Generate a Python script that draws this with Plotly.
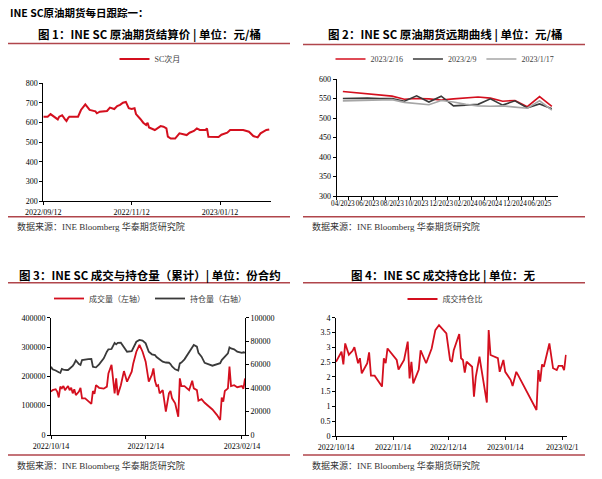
import plotly.graph_objects as go

# ---------------- data ----------------
# Figure 1: SC next-month settlement price (yuan/bbl)
p1_dates = ["2022-09-12","2022-09-15","2022-09-17","2022-09-19","2022-09-21","2022-09-22","2022-09-23","2022-09-25","2022-09-27","2022-09-28",
            "2022-09-29","2022-09-30","2022-10-06","2022-10-08","2022-10-11","2022-10-13","2022-10-14","2022-10-18","2022-10-19","2022-10-21",
            "2022-10-26","2022-10-28","2022-10-30","2022-10-31","2022-11-02","2022-11-04","2022-11-06","2022-11-08","2022-11-10","2022-11-12",
            "2022-11-14","2022-11-15","2022-11-18","2022-11-20","2022-11-22","2022-11-23","2022-11-24","2022-11-26","2022-11-28","2022-12-02",
            "2022-12-04","2022-12-06","2022-12-07","2022-12-09","2022-12-12","2022-12-15","2022-12-19","2022-12-20","2022-12-22","2022-12-25",
            "2022-12-27","2022-12-29","2023-01-02","2023-01-03","2023-01-04","2023-01-07","2023-01-11","2023-01-13","2023-01-17","2023-01-19",
            "2023-01-22","2023-01-28","2023-02-01","2023-02-02","2023-02-04","2023-02-07","2023-02-09","2023-02-13","2023-02-15"]
p1_sc_next = [630,630,643,633,621,616,630,637,616,608,
              621,630,630,664,693,673,664,657,647,655,
              659,676,673,669,684,690,701,705,673,669,
              673,643,618,599,587,599,575,567,562,582,
              579,570,528,518,518,545,540,536,548,557,
              570,562,562,570,528,528,526,538,548,562,
              562,562,553,545,531,524,545,562,565]
p1_tickvals = ["2022-09-12", "2022-11-12", "2023-01-12"]
p1_ticktext = ["2022/09/12", "2022/11/12", "2023/01/12"]

# Figure 2: forward curves
p2_contracts = ["04/2023","05/2023","06/2023","07/2023","08/2023","09/2023","10/2023","11/2023","12/2023",
                "01/2024","02/2024","03/2024","06/2024","09/2024","12/2024","03/2025","06/2025","09/2025"]
p2_0216 = [568,565,562,559,556,548,550,549,546,549,551,554,551,543,545,529,555,530]
p2_0209 = [550,551,551,550,550,543,557,541,556,531,533,535,549,533,544,526,536,524]
p2_0117 = [544,545,546,547,547,540,537,534,545,541,535,531,530,531,528,525,544,520]

# Figure 3: volume & open interest (contracts)
p3_dates = ["2022-10-14","2022-10-15","2022-10-17","2022-10-18","2022-10-19","2022-10-20","2022-10-21","2022-10-22","2022-10-23","2022-10-24",
            "2022-10-25","2022-10-26","2022-10-27","2022-10-28","2022-10-29","2022-10-30","2022-11-01","2022-11-02","2022-11-03","2022-11-05",
            "2022-11-07","2022-11-09","2022-11-10","2022-11-11","2022-11-12","2022-11-14","2022-11-17","2022-11-19","2022-11-20","2022-11-22",
            "2022-11-24","2022-11-25","2022-11-26","2022-11-28","2022-11-30","2022-12-02","2022-12-05","2022-12-06","2022-12-08","2022-12-10",
            "2022-12-12","2022-12-14","2022-12-16","2022-12-18","2022-12-19","2022-12-20","2022-12-21","2022-12-22","2022-12-23","2022-12-25",
            "2022-12-27","2022-12-29","2022-12-30","2022-12-31","2023-01-02","2023-01-04","2023-01-05","2023-01-06","2023-01-08","2023-01-11",
            "2023-01-13","2023-01-14","2023-01-16","2023-01-17","2023-01-19","2023-01-21","2023-01-26","2023-01-29","2023-01-31","2023-02-01",
            "2023-02-02","2023-02-03","2023-02-05","2023-02-06","2023-02-07","2023-02-09","2023-02-11","2023-02-14","2023-02-15","2023-02-16"]
p3_volume = [147700,153000,156000,148000,128000,165000,159000,167000,153000,161000,
             167000,153000,161000,142000,156000,136000,148000,161000,125000,125000,
             114000,106000,150000,140000,170000,161000,158000,165000,210000,239000,
             142000,193000,136000,170000,218000,182000,216000,244000,284000,307000,
             284000,250000,182000,205000,227000,185000,167000,170000,142000,153000,
             80000,142000,150000,125000,108000,62000,193000,167000,167000,153000,
             185000,159000,153000,117000,122000,110000,87000,68000,51000,128000,
             114000,150000,159000,233000,167000,170000,163000,167000,158000,193000]
p3_open_interest = [58200,56000,55000,54000,53500,53000,56300,55800,55400,55400,
                    55400,56500,57500,58800,61000,63600,60500,59700,63900,64500,
                    64700,64800,58200,57900,57700,60200,65300,71000,73000,73300,
                    78500,77300,78500,78700,75300,71000,71500,74000,79500,81000,
                    80400,78100,71000,68800,68500,68200,66500,65300,64500,62500,
                    61800,61600,60500,58500,56000,55000,61100,61800,64500,70500,
                    74000,76700,75300,70000,66800,61500,59100,60300,61200,63900,
                    65500,67000,69600,74700,73800,73000,71000,70000,70500,70200]
p3_tickvals = ["2022-10-14", "2022-12-14", "2023-02-14"]
p3_ticktext = ["2022/10/14", "2022/12/14", "2023/02/14"]

# Figure 4: volume / open-interest ratio
p4_dates = ["2022-10-14","2022-10-15","2022-10-17","2022-10-18","2022-10-19","2022-10-21","2022-10-23","2022-10-24","2022-10-25","2022-10-26",
            "2022-10-27","2022-10-28","2022-10-31","2022-11-01","2022-11-02","2022-11-04","2022-11-08","2022-11-09","2022-11-10","2022-11-11",
            "2022-11-16","2022-11-17","2022-11-20","2022-11-22","2022-11-23","2022-11-24","2022-11-25","2022-11-28","2022-11-29","2022-12-01",
            "2022-12-02","2022-12-05","2022-12-07","2022-12-09","2022-12-13","2022-12-15","2022-12-16","2022-12-17","2022-12-20","2022-12-21",
            "2022-12-22","2022-12-23","2022-12-24","2022-12-27","2022-12-28","2022-12-29","2022-12-31","2023-01-01","2023-01-04","2023-01-05",
            "2023-01-06","2023-01-10","2023-01-11","2023-01-13","2023-01-14","2023-01-17","2023-01-18","2023-01-20","2023-01-21","2023-01-31",
            "2023-02-01","2023-02-02","2023-02-03","2023-02-04","2023-02-07","2023-02-09","2023-02-11","2023-02-12","2023-02-14","2023-02-15",
            "2023-02-16"]
p4_ratio = [2.51,2.63,2.85,2.42,3.13,2.75,2.88,3.00,2.70,2.46,
            2.63,2.12,2.46,2.83,2.04,2.04,1.67,2.63,2.46,2.96,
            2.57,2.25,2.57,3.19,1.95,2.51,1.78,2.25,2.90,2.57,
            2.46,2.96,3.58,3.75,3.47,2.57,2.51,2.90,3.45,2.63,
            2.57,2.14,2.51,2.34,1.33,2.00,2.68,2.29,1.13,3.58,
            2.74,2.63,2.17,2.57,2.17,1.89,1.69,2.17,2.06,0.88,
            2.23,1.84,2.42,2.34,3.13,2.29,2.23,2.37,2.37,2.23,
            2.74]
p4_tickvals = ["2022-10-14", "2022-11-14", "2022-12-14", "2023-01-14", "2023-02-14"]
p4_ticktext = ["2022/10/14", "2022/11/14", "2022/12/14", "2023/01/14", "2023/02/1"]

# ---------------- styling ----------------
W, H = 602, 479
RED = "#D40F1E"
DARK = "#3A3A3A"
LIGHT = "#A6A6A6"
RULE = "#B0454B"
SERIF = "Liberation Serif, Noto Sans CJK SC"
CJK_BOLD = "Noto Sans CJK SC"


def fx(x):
    return x / W


def fy(y):
    return 1 - y / H


axis_common = dict(showgrid=False, zeroline=False, showline=True, linecolor="#000", linewidth=1,
                   ticks="outside", ticklen=3, tickcolor="#000", tickwidth=1, automargin=False,
                   tickfont=dict(family=SERIF, size=8, color="#000"), fixedrange=True)

fig = go.Figure()

fig.add_trace(go.Scatter(x=p1_dates, y=p1_sc_next, mode="lines", name="SC次月",
                         line=dict(color=RED, width=2), xaxis="x", yaxis="y", legend="legend"))

fig.add_trace(go.Scatter(x=p2_contracts, y=p2_0216, mode="lines", name="2023/2/16",
                         line=dict(color=RED, width=1.6), xaxis="x2", yaxis="y2", legend="legend2"))
fig.add_trace(go.Scatter(x=p2_contracts, y=p2_0209, mode="lines", name="2023/2/9",
                         line=dict(color=DARK, width=1.6), xaxis="x2", yaxis="y2", legend="legend2"))
fig.add_trace(go.Scatter(x=p2_contracts, y=p2_0117, mode="lines", name="2023/1/17",
                         line=dict(color=LIGHT, width=1.6), xaxis="x2", yaxis="y2", legend="legend2"))

fig.add_trace(go.Scatter(x=p3_dates, y=p3_volume, mode="lines", name="成交量（左轴）",
                         line=dict(color=RED, width=1.8), xaxis="x3", yaxis="y3", legend="legend3"))
fig.add_trace(go.Scatter(x=p3_dates, y=p3_open_interest, mode="lines", name="持仓量（右轴）",
                         line=dict(color=DARK, width=1.8), xaxis="x3", yaxis="y5", legend="legend3"))

fig.add_trace(go.Scatter(x=p4_dates, y=p4_ratio, mode="lines", name="成交持仓比",
                         line=dict(color=RED, width=1.8), xaxis="x4", yaxis="y4", legend="legend4"))

p2_ticktext = [c if i % 2 == 0 else "" for i, c in enumerate(p2_contracts)]

fig.update_layout(
    width=W, height=H, margin=dict(l=0, r=0, t=0, b=0, pad=0, autoexpand=False),
    paper_bgcolor="white", plot_bgcolor="white", showlegend=True,
    xaxis=dict(axis_common, domain=[fx(43.3), fx(270.7)], anchor="y", type="date",
               range=["2022-09-12", "2023-02-16"], tickmode="array",
               tickvals=p1_tickvals, ticktext=p1_ticktext, tickangle=0),
    yaxis=dict(axis_common, domain=[fy(201), fy(83.3)], anchor="x", range=[200, 800], dtick=100, tick0=200),
    xaxis2=dict(axis_common, domain=[fx(336.7), fx(558)], anchor="y2", type="category",
                tickmode="array", tickvals=p2_contracts, ticktext=p2_ticktext,
                tickson="boundaries", tickangle=0, range=[-0.5, len(p2_contracts) - 0.5],
                tickfont=dict(family=SERIF, size=7.2, color="#000")),
    yaxis2=dict(axis_common, domain=[fy(196), fy(79)], anchor="x2", range=[300, 600], dtick=50, tick0=300),
    xaxis3=dict(axis_common, domain=[fx(51), fx(245)], anchor="y3", type="date",
                range=["2022-10-14", "2023-02-16"], tickmode="array",
                tickvals=p3_tickvals, ticktext=p3_ticktext, tickangle=0),
    yaxis3=dict(axis_common, domain=[fy(435), fy(317.7)], anchor="x3", range=[0, 400000], dtick=100000,
                tickformat="d"),
    yaxis5=dict(axis_common, overlaying="y3", side="right", anchor="x3", range=[0, 100000], dtick=20000,
                tickformat="d"),
    xaxis4=dict(axis_common, domain=[fx(336), fx(566.7)], anchor="y4", type="date",
                range=["2022-10-14", "2023-02-16 10:00"], tickmode="array",
                tickvals=p4_tickvals, ticktext=p4_ticktext, tickangle=0),
    yaxis4=dict(axis_common, domain=[fy(436), fy(317.7)], anchor="x4", range=[0, 4], dtick=0.5),
)

legend_common = dict(orientation="h", xanchor="center", yanchor="middle", bgcolor="rgba(0,0,0,0)",
                     font=dict(family=SERIF, size=8, color="#404040"), itemwidth=30)
fig.update_layout(
    legend=dict(legend_common, x=fx(150), y=fy(59)),
    legend2=dict(legend_common, x=fx(445), y=fy(59)),
    legend3=dict(legend_common, x=fx(150), y=fy(298.5)),
    legend4=dict(legend_common, x=fx(445), y=fy(299)),
)

annotations = [
    dict(text="<b>INE SC原油期货每日跟踪一：</b>", x=fx(8), y=fy(12), xanchor="left", yanchor="middle",
         font=dict(family=CJK_BOLD, size=10.5, color="#000")),
    dict(text="<b>图 1：INE SC 原油期货结算价 | 单位：元/桶</b>", x=fx(149), y=fy(35), xanchor="center", yanchor="middle",
         font=dict(family=CJK_BOLD, size=11.5, color="#000")),
    dict(text="<b>图 2：INE SC 原油期货远期曲线 | 单位：元/桶</b>", x=fx(445), y=fy(35), xanchor="center", yanchor="middle",
         font=dict(family=CJK_BOLD, size=11.5, color="#000")),
    dict(text="<b>图 3：INE SC 成交与持仓量（累计）| 单位：份合约</b>", x=fx(150), y=fy(275.7), xanchor="center", yanchor="middle",
         font=dict(family=CJK_BOLD, size=11.5, color="#000")),
    dict(text="<b>图 4：INE SC 成交持仓比 | 单位：无</b>", x=fx(443), y=fy(275.7), xanchor="center", yanchor="middle",
         font=dict(family=CJK_BOLD, size=11.5, color="#000")),
]
for sx, sy in [(15, 226), (310, 226), (15, 465), (310, 465)]:
    annotations.append(dict(text="数据来源：INE Bloomberg 华泰期货研究院", x=fx(sx), y=fy(sy), xanchor="left",
                            yanchor="middle", font=dict(family=SERIF, size=9, color="#333")))
for a in annotations:
    a.update(xref="paper", yref="paper", showarrow=False)
fig.update_layout(annotations=annotations)

shapes = []
for x0, x1, y in [(8, 290, 43.5), (303, 585, 44.5), (8, 290, 282.7), (303, 585, 282.7),
                  (8, 290, 216.7), (303, 585, 216.7), (8, 290, 455), (303, 585, 455)]:
    shapes.append(dict(type="line", xref="paper", yref="paper", x0=fx(x0), x1=fx(x1), y0=fy(y), y1=fy(y),
                       line=dict(color=RULE, width=1.5)))
fig.update_layout(shapes=shapes)

fig.write_html("out.html")
